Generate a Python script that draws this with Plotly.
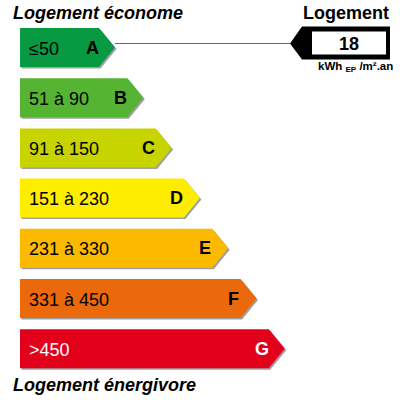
import plotly.graph_objects as go

# ---- data ----
classes = ["A", "B", "C", "D", "E", "F", "G"]
range_labels = ["≤50", "51 à 90", "91 à 150", "151 à 230", "231 à 330", "331 à 450", ">450"]
upper_bounds = [50, 90, 150, 230, 330, 450, None]
colors = ["#079a42", "#55b432", "#c8d400", "#ffed00", "#fbba00", "#eb690b", "#e2001a"]
label_colors = ["black", "black", "black", "black", "black", "black", "white"]
value = 18
unit_text = "kWh <sub>EP</sub> /m².an"
top_title = "Logement économe"
bottom_title = "Logement énergivore"
box_title = "Logement"

# ---- layout geometry (pixel space) ----
X0 = 20
TOP0 = 28
STEP = 50.2
H = 39
TIP0 = 115
TIP_STEP = 28.3
POINT = 16
FONT = "Liberation Sans, Arial, sans-serif"

def class_index(v):
    for i, ub in enumerate(upper_bounds):
        if ub is None or v <= ub:
            return i
    return len(classes) - 1

fig = go.Figure()
annotations = []

for i, c in enumerate(classes):
    top = TOP0 + STEP * i
    bot = top + H
    mid = top + H / 2
    tip = TIP0 + TIP_STEP * i
    rr = tip - POINT
    xs = [X0, rr, tip, rr, X0, X0]
    ys = [top, top, mid, bot, bot, top]
    # shadow
    fig.add_trace(go.Scatter(x=[x + 1.5 for x in xs], y=[y + 1.5 for y in ys], fill="toself",
                             fillcolor="#a0a0a0", line=dict(width=0), mode="lines",
                             hoverinfo="skip", showlegend=False))
    fig.add_trace(go.Scatter(x=xs, y=ys, fill="toself", fillcolor=colors[i],
                             line=dict(width=0), mode="lines", hoverinfo="skip",
                             showlegend=False))
    annotations.append(dict(x=X0 + 7, y=mid + 1, text=range_labels[i], xanchor="left",
                            yanchor="middle", showarrow=False,
                            font=dict(family=FONT, size=18, color=label_colors[i])))
    annotations.append(dict(x=tip - 23, y=mid, text="<b>" + c + "</b>", xanchor="center",
                            yanchor="middle", showarrow=False,
                            font=dict(family=FONT, size=18, color=label_colors[i])))

# indicator
k = class_index(value)
ymid = TOP0 + STEP * k + H / 2 - 4
tipk = TIP0 + TIP_STEP * k
ITIP = 290
fig.add_trace(go.Scatter(x=[tipk, ITIP], y=[ymid, ymid], mode="lines",
                         line=dict(color="#666666", width=1), hoverinfo="skip", showlegend=False))
fig.add_trace(go.Scatter(x=[ITIP, 302, 390, 390, 302, ITIP],
                         y=[ymid, ymid - 17, ymid - 17, ymid + 16, ymid + 16, ymid],
                         fill="toself", fillcolor="black", line=dict(width=0), mode="lines",
                         hoverinfo="skip", showlegend=False))
fig.add_trace(go.Scatter(x=[312, 386, 386, 312, 312],
                         y=[ymid - 12, ymid - 12, ymid + 11, ymid + 11, ymid - 12],
                         fill="toself", fillcolor="white", line=dict(width=0), mode="lines",
                         hoverinfo="skip", showlegend=False))
annotations.append(dict(x=349, y=ymid, text="<b>%d</b>" % value, showarrow=False,
                        xanchor="center", yanchor="middle",
                        font=dict(family=FONT, size=18, color="black")))
annotations.append(dict(x=355, y=ymid + 23, text="<b>" + unit_text + "</b>", showarrow=False,
                        xanchor="center", yanchor="middle",
                        font=dict(family=FONT, size=11.5, color="black")))
annotations.append(dict(x=346, y=13, text="<b>" + box_title + "</b>", showarrow=False,
                        xanchor="center", yanchor="middle",
                        font=dict(family=FONT, size=18, color="black")))
annotations.append(dict(x=11, y=13, text="<b><i>" + top_title + "</i></b>", showarrow=False,
                        xanchor="left", yanchor="middle",
                        font=dict(family=FONT, size=18, color="black")))
annotations.append(dict(x=11, y=385, text="<b><i>" + bottom_title + "</i></b>", showarrow=False,
                        xanchor="left", yanchor="middle",
                        font=dict(family=FONT, size=18, color="black")))

fig.update_layout(
    width=400, height=400, margin=dict(l=0, r=0, t=0, b=0),
    paper_bgcolor="white", plot_bgcolor="white",
    xaxis=dict(range=[0, 400], visible=False, fixedrange=True),
    yaxis=dict(range=[400, 0], visible=False, fixedrange=True),
    annotations=annotations, showlegend=False,
)
fig.write_html("out.html", config={"displayModeBar": False},
               post_script="document.body.style.margin='0';document.body.style.overflow='hidden';")
